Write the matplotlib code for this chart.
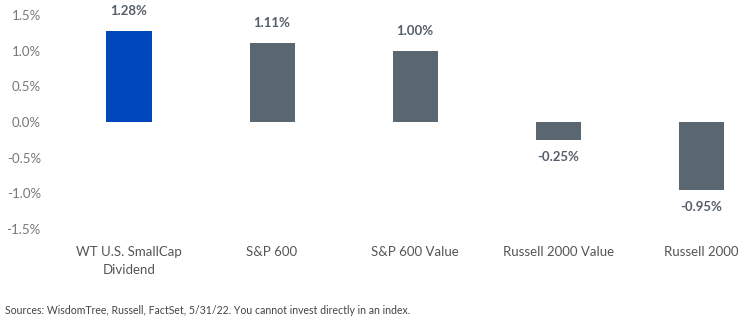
import matplotlib
matplotlib.use("Agg")
import matplotlib.pyplot as plt

categories = ["WT U.S. SmallCap\nDividend", "S&P 600", "S&P 600 Value", "Russell 2000 Value", "Russell 2000"]
values = [1.28, 1.11, 1.00, -0.25, -0.95]
colors = ["#0047BB", "#5A6670", "#5A6670", "#5A6670", "#5A6670"]
yticks = [-1.5, -1.0, -0.5, 0.0, 0.5, 1.0, 1.5]
source = "Sources: WisdomTree, Russell, FactSet, 5/31/22. You cannot invest directly in an index."

plt.rcParams['font.family'] = ['Lato', 'DejaVu Sans']
fig = plt.figure(figsize=(7.44, 3.24), dpi=100)
ax = fig.add_axes([57.5/744, 1-229/324, 1-57.5/744, (229-15)/324])

x = list(range(len(categories)))
ax.bar(x, values, width=0.315, color=colors)
ax.set_xlim(-0.5, 4.3)
ax.set_ylim(-1.5, 1.5)
ax.set_yticks(yticks)
ax.set_yticklabels([f"{v:.1f}%" for v in yticks], color="#777777", fontsize=9.5)
ax.set_xticks(x)
ax.set_xticklabels(categories, color="#555555", fontsize=9.5, linespacing=1.6)
ax.tick_params(axis='both', length=0)
ax.tick_params(axis='y', pad=12)
ax.tick_params(axis='x', pad=12)
for s in ax.spines.values():
    s.set_visible(False)

for xi, v in zip(x, values):
    if v >= 0:
        ax.annotate(f"{v:.2f}%", (xi, v), xytext=(0, 10), textcoords="offset points",
                    ha="center", va="bottom", fontsize=9.5, fontweight="bold", color="#555F69")
    else:
        ax.annotate(f"{v:.2f}%", (xi, v), xytext=(0, -8), textcoords="offset points",
                    ha="center", va="top", fontsize=9.5, fontweight="bold", color="#555F69")

fig.text(5/744, 1-310/324, source, fontsize=7.6, color="#444444", ha="left", va="center")
fig.savefig("out.png", dpi=100)
